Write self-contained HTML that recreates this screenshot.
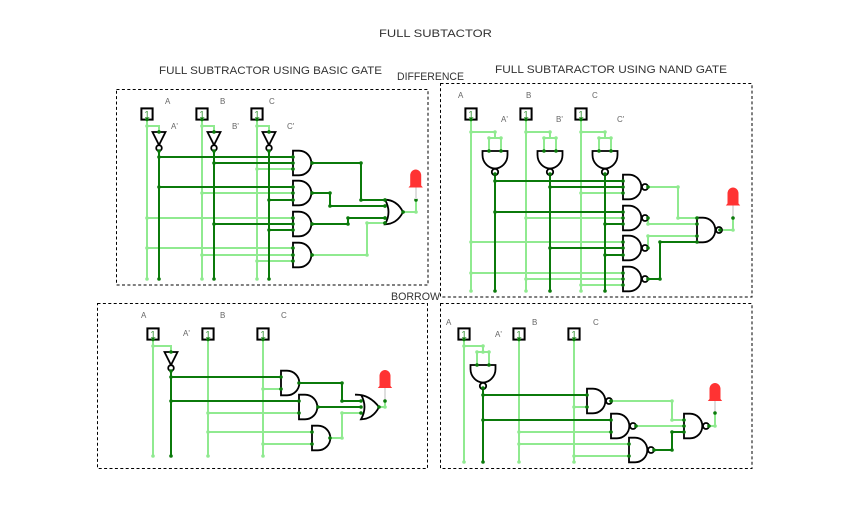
<!DOCTYPE html>
<html><head><meta charset="utf-8"><style>
html,body{margin:0;padding:0;background:#fff}
svg{display:block}
.l{fill:none;stroke:#90ea90;stroke-width:2}
.d{fill:none;stroke:#0b7a0b;stroke-width:2}
.ld{fill:none;stroke:#90ea90;stroke-width:3.6;stroke-linecap:round}
.dd{fill:none;stroke:#0b7a0b;stroke-width:3.6;stroke-linecap:round}
.b{fill:none;stroke:#000;stroke-width:1;stroke-dasharray:3 2.4}
.g{fill:#fff;stroke:#000;stroke-width:1.8}
.led{fill:#ff3333}
.lead{stroke:#dedede;stroke-width:2}
.t{font-family:"Liberation Sans",sans-serif;font-size:11px;fill:#333}
.s{font-family:"Liberation Sans",sans-serif;font-size:8px;fill:#666}
.o{font-family:"Liberation Sans",sans-serif;font-size:10px;fill:#3f9a3f;text-anchor:middle}
</style></head><body>
<svg width="849" height="530" viewBox="0 0 849 530" xmlns="http://www.w3.org/2000/svg">
<defs>
<g id="and"><path class="g" d="M0 -12.3H6A12.3 12.3 0 0 1 6 12.3H0Z"/></g>
<g id="nand"><path class="g" d="M0 -12.3H6A12.3 12.3 0 0 1 6 12.3H0Z"/><circle class="g" cx="22" cy="0" r="3"/></g>
<g id="vnand"><path class="g" d="M-12.5 0H12.5V4C12.5 12 6 17.5 0 17.5C-6 17.5 -12.5 12 -12.5 4Z"/><circle class="g" cx="0" cy="21" r="3.2"/></g>
<g id="not"><path class="g" d="M-6.5 0H6.5L0 13Z"/><circle class="g" cx="0" cy="16" r="2.8"/></g>
<g id="or"><path class="g" d="M0 -12.3Q12 -12 18 0Q12 12 0 12.3Q7 0 0 -12.3Z"/></g>
<g id="or2"><path class="g" d="M-6 -12.3Q8 -13 18 0Q12 12 0 12.3Q7 0 0 -12.3"/></g>
<g id="led"><path class="led" d="M-7.2 0L-5.5 -2V-12A5.5 6 0 0 1 5.5 -12V-2L7.2 0Z"/></g>
<g id="in"><rect x="-5.6" y="-5.6" width="11.2" height="11.2" fill="#fff" stroke="#000" stroke-width="2"/></g>
</defs>

<text class="t" x="379" y="37" textLength="113" lengthAdjust="spacingAndGlyphs">FULL SUBTACTOR</text>
<text class="t" x="159" y="74" textLength="223" lengthAdjust="spacingAndGlyphs">FULL SUBTRACTOR USING BASIC GATE</text>
<text class="t" x="397" y="80" textLength="67" lengthAdjust="spacingAndGlyphs">DIFFERENCE</text>
<text class="t" x="495" y="73" textLength="232" lengthAdjust="spacingAndGlyphs">FULL SUBTARACTOR USING NAND GATE</text>
<text class="t" x="391" y="300" textLength="49" lengthAdjust="spacingAndGlyphs">BORROW</text>

<rect class="b" x="116.5" y="89.5" width="311.5" height="195.5"/>
<rect class="b" x="440.5" y="83.5" width="311.5" height="213.5"/>
<rect class="b" x="97.5" y="303.5" width="330" height="165"/>
<rect class="b" x="440.5" y="303.5" width="311.5" height="165"/>

<!-- Panel 1 -->
<path class="l" d="M147 119V279M147 126H159V132M202 119V279M202 126H214V132M257 119V279M257 126H269V132M257 169H293M202 193H293M147 218H293M147 248H293M202 255H293M257 261H293M312 255H367V223H385M403 212H416V200"/>
<path class="d" d="M159 151V279M214 151V279M269 151V279M159 157H293M214 163H293M159 187H293M269 200H293M214 224H293M269 230H293M312 163H361V200H385M312 193H330V206H385M312 224H348V218H385"/>
<path class="ld" d="M147 279h0M202 279h0M257 279h0M147 126h0M202 126h0M257 126h0M257 169h0M202 193h0M147 218h0M147 248h0M202 255h0M257 261h0M367 255h0M367 223h0M416 212h0"/>
<path class="dd" d="M147 119h0M202 119h0M257 119h0M159 132h0M214 132h0M269 132h0M159 279h0M214 279h0M269 279h0M159 157h0M214 163h0M159 187h0M269 200h0M214 224h0M269 230h0M293 157h0M293 163h0M293 169h0M293 187h0M293 193h0M293 200h0M293 218h0M293 224h0M293 230h0M293 248h0M293 255h0M293 261h0M312 163h0M312 193h0M312 224h0M312 255h0M361 163h0M361 200h0M330 193h0M330 206h0M348 224h0M348 218h0M385 200h0M385 206h0M385 218h0M385 223h0M403 212h0M416 200h0"/>
<use href="#not" x="159" y="132"/><use href="#not" x="214" y="132"/><use href="#not" x="269" y="132"/>
<use href="#and" x="293" y="163"/><use href="#and" x="293" y="193"/><use href="#and" x="293" y="224"/><use href="#and" x="293" y="255"/>
<path class="dd" d="M293 157h0M293 163h0M293 169h0M293 187h0M293 193h0M293 200h0M293 218h0M293 224h0M293 230h0M293 248h0M293 255h0M293 261h0M312 163h0M312 193h0M312 224h0M312 255h0M159 132h0M214 132h0M269 132h0"/>
<use href="#or" x="385" y="212"/>
<path class="dd" d="M385 200h0M385 206h0M385 218h0M385 223h0M403 212h0"/>
<line class="lead" x1="416" y1="187" x2="416" y2="199"/><use href="#led" x="415.7" y="187.5"/>
<use href="#in" x="147" y="114"/><use href="#in" x="202" y="114"/><use href="#in" x="257" y="114"/>
<text class="o" x="147" y="118">1</text><text class="o" x="202" y="118">1</text><text class="o" x="257" y="118">1</text>
<path class="dd" d="M147 119.5h0M202 119.5h0M257 119.5h0M159 151h0M214 151h0M269 151h0"/>
<text class="s" x="165" y="104">A</text><text class="s" x="220" y="104">B</text><text class="s" x="269" y="104">C</text>
<text class="s" x="171" y="129">A'</text><text class="s" x="232" y="129">B'</text><text class="s" x="287" y="129">C'</text>

<!-- Panel 2 -->
<path class="l" d="M471 119V291M526 119V291M581 119V291M471 132H495V138M526 132H550V138M581 132H605V138M489 151V138H501V151M544 151V138H556V151M599 151V138H611V151M581 193H623M526 218H623M471 242H623M471 273H623M526 279H623M581 285H623M648 187H678V218H697M648 218V224H697M648 248V236H697M714 230H733V218"/>
<path class="d" d="M495 174V291M550 174V291M605 174V291M495 181H623M550 187H623M495 212H623M605 224H623M550 248H623M605 255H623M648 279H660V242H697"/>
<path class="ld" d="M471 291h0M526 291h0M581 291h0M471 132h0M526 132h0M581 132h0M495 132h0M550 132h0M605 132h0M489 138h0M501 138h0M544 138h0M556 138h0M599 138h0M611 138h0M581 193h0M526 218h0M471 242h0M471 273h0M526 279h0M581 285h0M678 187h0M678 218h0M648 224h0M648 236h0M733 230h0"/>
<use href="#vnand" x="495" y="151"/><use href="#vnand" x="550" y="151"/><use href="#vnand" x="605" y="151"/>
<use href="#nand" x="623" y="187"/><use href="#nand" x="623" y="218"/><use href="#nand" x="623" y="248"/><use href="#nand" x="623" y="279"/>
<use href="#nand" x="697" y="230"/>
<line class="lead" x1="733" y1="205" x2="733" y2="217"/><use href="#led" x="733" y="205.5"/>
<path class="dd" d="M489 151h0M501 151h0M544 151h0M556 151h0M599 151h0M611 151h0M495 174h0M550 174h0M605 174h0M495 291h0M550 291h0M605 291h0M495 181h0M550 187h0M495 212h0M605 224h0M550 248h0M605 255h0M623 181h0M623 187h0M623 193h0M623 212h0M623 218h0M623 224h0M623 242h0M623 248h0M623 255h0M623 273h0M623 279h0M623 285h0M648 187h0M648 218h0M648 248h0M648 279h0M660 279h0M660 242h0M697 218h0M697 224h0M697 236h0M697 242h0M720 230h0M733 218h0"/>
<use href="#in" x="471" y="114"/><use href="#in" x="526" y="114"/><use href="#in" x="581" y="114"/>
<text class="o" x="471" y="118">1</text><text class="o" x="526" y="118">1</text><text class="o" x="581" y="118">1</text>
<path class="dd" d="M471 119.5h0M526 119.5h0M581 119.5h0"/>
<text class="s" x="458" y="98">A</text><text class="s" x="526" y="98">B</text><text class="s" x="592" y="98">C</text>
<text class="s" x="501" y="122">A'</text><text class="s" x="556" y="122">B'</text><text class="s" x="617" y="122">C'</text>

<!-- Panel 3 -->
<path class="l" d="M153 339V456M208 339V456M263 339V456M153 346H171V352M263 389H281M208 413H299M208 432H312M263 444H312M330 438H342V413H361M379 407H385V401"/>
<path class="d" d="M171 371V456M171 377H281M171 401H299M299 383H342V401H361M318 407H361"/>
<path class="ld" d="M153 456h0M208 456h0M263 456h0M153 346h0M263 389h0M208 413h0M208 432h0M263 444h0M342 438h0M342 413h0M385 407h0"/>
<use href="#not" x="171" y="352"/>
<use href="#and" x="281" y="383"/><use href="#and" x="299" y="407"/><use href="#and" x="312" y="438"/>
<use href="#or2" x="361" y="407"/>
<line class="lead" x1="385" y1="388" x2="385" y2="400"/><use href="#led" x="385" y="388"/>
<path class="dd" d="M171 352h0M171 371h0M171 456h0M171 377h0M171 401h0M281 377h0M281 389h0M299 401h0M299 413h0M312 432h0M312 444h0M299 383h0M318 407h0M330 438h0M342 383h0M342 401h0M361 401h0M361 407h0M361 413h0M379 407h0M385 401h0"/>
<use href="#in" x="153" y="334"/><use href="#in" x="208" y="334"/><use href="#in" x="263" y="334"/>
<text class="o" x="153" y="338">1</text><text class="o" x="208" y="338">1</text><text class="o" x="263" y="338">1</text>
<path class="dd" d="M153 339.5h0M208 339.5h0M263 339.5h0"/>
<text class="s" x="141" y="318">A</text><text class="s" x="220" y="318">B</text><text class="s" x="281" y="318">C</text>
<text class="s" x="183" y="336">A'</text>

<!-- Panel 4 -->
<path class="l" d="M464 339V462M519 339V462M574 339V462M464 346H483V352M477 365V352H489V365M574 407H587M519 432H611M519 444H629M574 456H629M611 401H672V420H684M636 426H684M703 426H715V413"/>
<path class="d" d="M483 388V462M483 395H587M483 420H611M654 450H672V432H684"/>
<path class="ld" d="M464 462h0M519 462h0M574 462h0M464 346h0M483 346h0M483 352h0M477 352h0M489 352h0M574 407h0M519 432h0M519 444h0M574 456h0M672 401h0M672 420h0M715 426h0"/>
<use href="#vnand" x="483" y="365"/>
<use href="#nand" x="587" y="401"/><use href="#nand" x="611" y="426"/><use href="#nand" x="629" y="450"/><use href="#nand" x="684" y="426"/>
<line class="lead" x1="715" y1="401" x2="715" y2="412"/><use href="#led" x="715" y="401"/>
<path class="dd" d="M477 365h0M489 365h0M483 388h0M483 462h0M483 395h0M483 420h0M587 395h0M587 407h0M611 420h0M611 432h0M629 444h0M629 456h0M611 401h0M636 426h0M654 450h0M672 450h0M672 432h0M684 420h0M684 426h0M684 432h0M709 426h0M715 413h0"/>
<use href="#in" x="464" y="334"/><use href="#in" x="519" y="334"/><use href="#in" x="574" y="334"/>
<text class="o" x="464" y="338">1</text><text class="o" x="519" y="338">1</text><text class="o" x="574" y="338">1</text>
<path class="dd" d="M464 339.5h0M519 339.5h0M574 339.5h0"/>
<text class="s" x="446" y="325">A</text><text class="s" x="532" y="325">B</text><text class="s" x="593" y="325">C</text>
<text class="s" x="495" y="337">A'</text>
</svg>
</body></html>
